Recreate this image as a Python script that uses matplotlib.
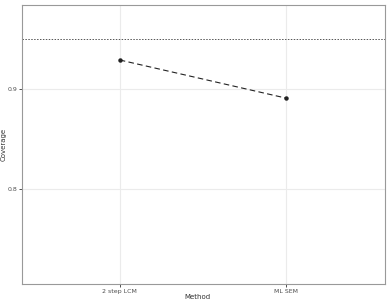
import matplotlib
matplotlib.use("Agg")
import matplotlib.pyplot as plt

methods = ["2 step LCM", "ML SEM"]
coverage = [0.929, 0.891]
nominal = 0.95
yticks = [0.8, 0.9]

W, H = 388, 302
fig = plt.figure(figsize=(W/100, H/100), dpi=100)
L, R, T, B = 22, 385, 5, 284
ax = fig.add_axes([L/W, 1 - B/H, (R-L)/W, (B-T)/H])
x = list(range(1, len(methods)+1))
ax.axhline(nominal, color="#555555", linestyle=(0, (1.5, 1.5)), linewidth=0.7, zorder=2)
ax.plot(x, coverage, color="#222222", linestyle=(0, (5, 3)), linewidth=0.8, marker="o", markersize=2.2, zorder=3)
ax.set_xlim(0.41, 2.6)
ax.set_ylim(0.705, 0.984)
ax.set_xticks(x)
ax.set_xticklabels(methods)
ax.set_yticks(yticks)
ax.set_yticklabels([f"{v:.1f}" for v in yticks])
ax.grid(True, color="#ebebeb", linewidth=0.8, zorder=0)
ax.set_axisbelow(True)
for s in ax.spines.values():
    s.set_color("#999999")
    s.set_linewidth(0.8)
ax.tick_params(axis="both", length=2, width=0.6, color="#333333", labelsize=4.5, labelcolor="#4d4d4d", pad=1.5)
fig.text(197/W, 1 - 297/H, "Method", fontsize=5, color="#333333", ha="center", va="center")
fig.text(4/W, 1 - 144/H, "Coverage", fontsize=5, color="#333333", ha="center", va="center", rotation=90)
fig.savefig("out.png", dpi=100)
